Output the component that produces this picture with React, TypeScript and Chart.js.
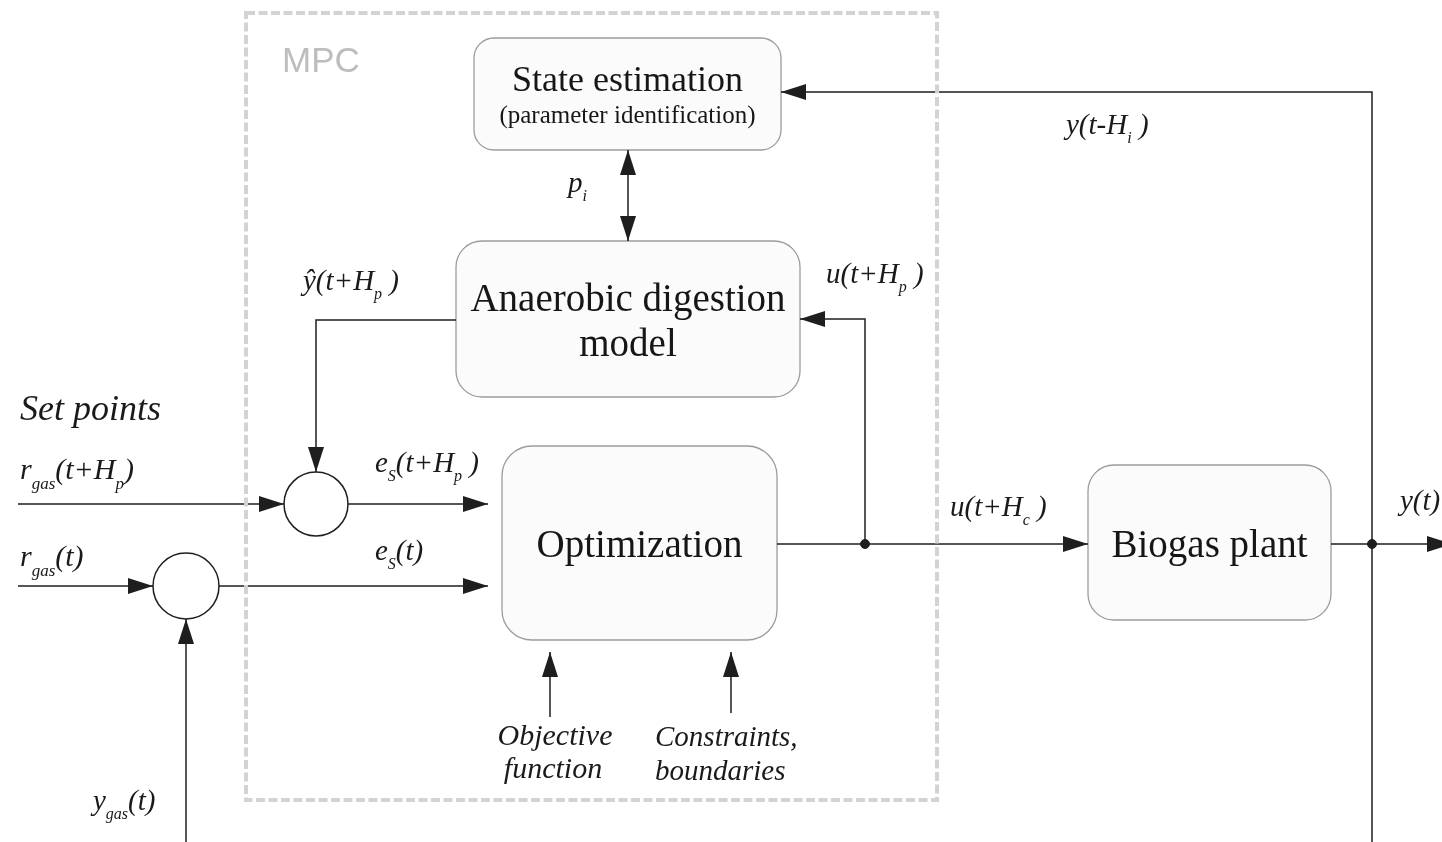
import React, { useEffect, useRef } from "react";
import { Chart, registerables } from "chart.js";

Chart.register(...registerables);

const W = 1442;
const H = 842;

// Frame of the MPC controller: [x0, y0, x1, y1]
const mpcFrame = [246, 13, 937, 800];
const mpcTitle = "MPC";
const mpcTitleAt = [282, 72];

// Blocks
const blockRects = [
  [474, 38, 781, 150, 20],
  [456, 241, 800, 397, 26],
  [502, 446, 777, 640, 30],
  [1088, 465, 1331, 620, 26],
];
const blockTexts = [
  ["State estimation", "(parameter identification)"],
  ["Anaerobic digestion", "model"],
  ["Optimization"],
  ["Biogas plant"],
];
const blockTextBaselines = [
  [91, 123],
  [311, 356],
  [557],
  [557],
];
const blockTextSizes = [
  [36, 25],
  [39, 39],
  [39],
  [39],
];

// Summing junctions: [cx, cy, r]
const junctions = [
  [316, 504, 32],
  [186, 586, 33],
];

// Connectors (polylines), arrow heads at end / start
const linkPaths = [
  [[1372, 850], [1372, 92], [781, 92]],
  [[628, 150], [628, 241]],
  [[456, 320], [316, 320], [316, 472]],
  [[865, 544], [865, 319], [800, 319]],
  [[18, 504], [284, 504]],
  [[348, 504], [488, 504]],
  [[18, 586], [153, 586]],
  [[219, 586], [488, 586]],
  [[186, 850], [186, 619]],
  [[777, 544], [1088, 544]],
  [[1331, 544], [1452, 544]],
  [[550, 717], [550, 652]],
  [[731, 713], [731, 652]],
];
const linkArrowEnd = [1, 1, 1, 1, 1, 1, 1, 1, 1, 1, 1, 1, 1];
const linkArrowStart = [0, 1, 0, 0, 0, 0, 0, 0, 0, 0, 0, 0, 0];

// Branch dots
const branchDots = [
  [865, 544],
  [1372, 544],
];

// Italic labels (subscripts as _{...})
const labelTexts = [
  "Set points",
  "r_{gas}(t+H_{p})",
  "r_{gas}(t)",
  "ŷ(t+H_{p} )",
  "p_{i}",
  "e_{S}(t+H_{p} )",
  "e_{S}(t)",
  "u(t+H_{p} )",
  "y(t-H_{i} )",
  "u(t+H_{c} )",
  "y(t)",
  "Objective",
  "function",
  "Constraints,",
  "boundaries",
  "y_{gas}(t)",
];
const labelAnchors = [
  [20, 420],
  [20, 479],
  [20, 566],
  [303, 290],
  [568, 192],
  [375, 472],
  [375, 560],
  [826, 283],
  [1066, 134],
  [950, 516],
  [1400, 510],
  [555, 745],
  [553, 778],
  [655, 746],
  [655, 780],
  [93, 810],
];
const labelSizes = [36, 30, 30, 29, 29, 29, 29, 29, 29, 29, 29, 30, 30, 29, 29, 29];
const labelAligns = ["l", "l", "l", "l", "l", "l", "l", "l", "l", "l", "l", "c", "c", "l", "l", "l"];

const LINE = "#1e1e1e";
const SERIF = "'Liberation Serif', 'Times New Roman', serif";

function parseRich(s: string) {
  const out: [string, boolean][] = [];
  let i = 0;
  let buf = "";
  while (i < s.length) {
    if (s[i] === "_" && s[i + 1] === "{") {
      if (buf) out.push([buf, false]);
      buf = "";
      const j = s.indexOf("}", i);
      out.push([s.slice(i + 2, j), true]);
      i = j + 1;
    } else {
      buf += s[i];
      i++;
    }
  }
  if (buf) out.push([buf, false]);
  return out;
}

function drawRich(ctx: CanvasRenderingContext2D, text: string, x: number, y: number, size: number, align: string) {
  const segs = parseRich(text);
  const subSize = Math.round(size * 0.55);
  let total = 0;
  const widths = segs.map(([t, sub]) => {
    ctx.font = `italic ${sub ? subSize : size}px ${SERIF}`;
    const w = ctx.measureText(t).width;
    total += w;
    return w;
  });
  let cx = align === "c" ? x - total / 2 : x;
  ctx.textAlign = "left";
  ctx.textBaseline = "alphabetic";
  segs.forEach(([t, sub], k) => {
    ctx.font = `italic ${sub ? subSize : size}px ${SERIF}`;
    ctx.fillText(t, cx, sub ? y + size * 0.32 : y);
    cx += widths[k];
  });
}

function arrowHead(ctx: CanvasRenderingContext2D, tx: number, ty: number, fx: number, fy: number) {
  const ang = Math.atan2(ty - fy, tx - fx);
  const L = 25;
  const Wd = 8;
  ctx.save();
  ctx.translate(tx, ty);
  ctx.rotate(ang);
  ctx.beginPath();
  ctx.moveTo(0, 0);
  ctx.lineTo(-L, -Wd);
  ctx.lineTo(-L, Wd);
  ctx.closePath();
  ctx.fillStyle = LINE;
  ctx.fill();
  ctx.restore();
}

function roundRect(ctx: CanvasRenderingContext2D, x0: number, y0: number, x1: number, y1: number, r: number) {
  ctx.beginPath();
  ctx.moveTo(x0 + r, y0);
  ctx.lineTo(x1 - r, y0);
  ctx.arcTo(x1, y0, x1, y0 + r, r);
  ctx.lineTo(x1, y1 - r);
  ctx.arcTo(x1, y1, x1 - r, y1, r);
  ctx.lineTo(x0 + r, y1);
  ctx.arcTo(x0, y1, x0, y1 - r, r);
  ctx.lineTo(x0, y0 + r);
  ctx.arcTo(x0, y0, x0 + r, y0, r);
  ctx.closePath();
}

const diagramPlugin = {
  id: "diagram",
  beforeDatasetsDraw(chart: any) {
    const { ctx, scales } = chart;
    const px = (v: number) => scales.x.getPixelForValue(v);
    const py = (v: number) => scales.y.getPixelForValue(v);
    ctx.save();
    blockRects.forEach(([x0, y0, x1, y1, r]) => {
      roundRect(ctx, px(x0), py(y0), px(x1), py(y1), r);
      ctx.fillStyle = "#fbfbfb";
      ctx.fill();
      ctx.strokeStyle = "#9c9c9c";
      ctx.lineWidth = 1.3;
      ctx.stroke();
    });
    junctions.forEach(([cx, cy, r]) => {
      ctx.beginPath();
      ctx.arc(px(cx), py(cy), r, 0, Math.PI * 2);
      ctx.fillStyle = "#ffffff";
      ctx.fill();
      ctx.strokeStyle = LINE;
      ctx.lineWidth = 1.5;
      ctx.stroke();
    });
    ctx.restore();
  },
  afterDatasetsDraw(chart: any) {
    const { ctx, scales } = chart;
    const px = (v: number) => scales.x.getPixelForValue(v);
    const py = (v: number) => scales.y.getPixelForValue(v);
    ctx.save();
    // MPC frame
    ctx.setLineDash([9, 3.5]);
    ctx.strokeStyle = "#d3d3d3";
    ctx.lineWidth = 4;
    ctx.strokeRect(px(mpcFrame[0]), py(mpcFrame[1]), px(mpcFrame[2]) - px(mpcFrame[0]), py(mpcFrame[3]) - py(mpcFrame[1]));
    ctx.setLineDash([]);
    ctx.fillStyle = "#bdbdbd";
    ctx.font = `35px 'Liberation Sans', Arial, sans-serif`;
    ctx.textAlign = "left";
    ctx.textBaseline = "alphabetic";
    ctx.fillText(mpcTitle, px(mpcTitleAt[0]), py(mpcTitleAt[1]));

    // arrows
    linkPaths.forEach((path, i) => {
      const n = path.length;
      if (linkArrowEnd[i]) arrowHead(ctx, px(path[n - 1][0]), py(path[n - 1][1]), px(path[n - 2][0]), py(path[n - 2][1]));
      if (linkArrowStart[i]) arrowHead(ctx, px(path[0][0]), py(path[0][1]), px(path[1][0]), py(path[1][1]));
    });

    // block texts
    ctx.fillStyle = "#161616";
    blockRects.forEach(([x0, , x1], i) => {
      const cx = px((x0 + x1) / 2);
      blockTexts[i].forEach((t, k) => {
        ctx.font = `${blockTextSizes[i][k]}px ${SERIF}`;
        ctx.textAlign = "center";
        ctx.fillText(t, cx, py(blockTextBaselines[i][k]));
      });
    });

    // labels
    ctx.fillStyle = "#1a1a1a";
    labelTexts.forEach((t, i) => {
      drawRich(ctx, t, px(labelAnchors[i][0]), py(labelAnchors[i][1]), labelSizes[i], labelAligns[i]);
    });
    ctx.restore();
  },
};

export default function App() {
  const ref = useRef<HTMLCanvasElement | null>(null);
  useEffect(() => {
    if (!ref.current) return;
    const datasets: any[] = linkPaths.map((path) => ({
      data: path.map(([x, y]) => ({ x, y })),
      showLine: true,
      borderColor: LINE,
      borderWidth: 1.5,
      pointRadius: 0,
      tension: 0,
      fill: false,
    }));
    datasets.push({
      data: branchDots.map(([x, y]) => ({ x, y })),
      showLine: false,
      pointRadius: 4.5,
      pointBackgroundColor: LINE,
      pointBorderColor: LINE,
    });
    const chart = new Chart(ref.current, {
      type: "scatter",
      data: { datasets },
      options: {
        animation: false,
        responsive: true,
        maintainAspectRatio: false,
        layout: { padding: 0, autoPadding: false },
        plugins: { legend: { display: false }, tooltip: { enabled: false } },
        events: [],
        scales: {
          x: { type: "linear", min: 0, max: W, display: false },
          y: { type: "linear", min: 0, max: H, reverse: true, display: false },
        },
      },
      plugins: [diagramPlugin],
    });
    return () => chart.destroy();
  }, []);
  return (
    <div style={{ position: "fixed", left: 0, top: 0, width: W, height: H, background: "#ffffff" }}>
      <canvas ref={ref} />
    </div>
  );
}
